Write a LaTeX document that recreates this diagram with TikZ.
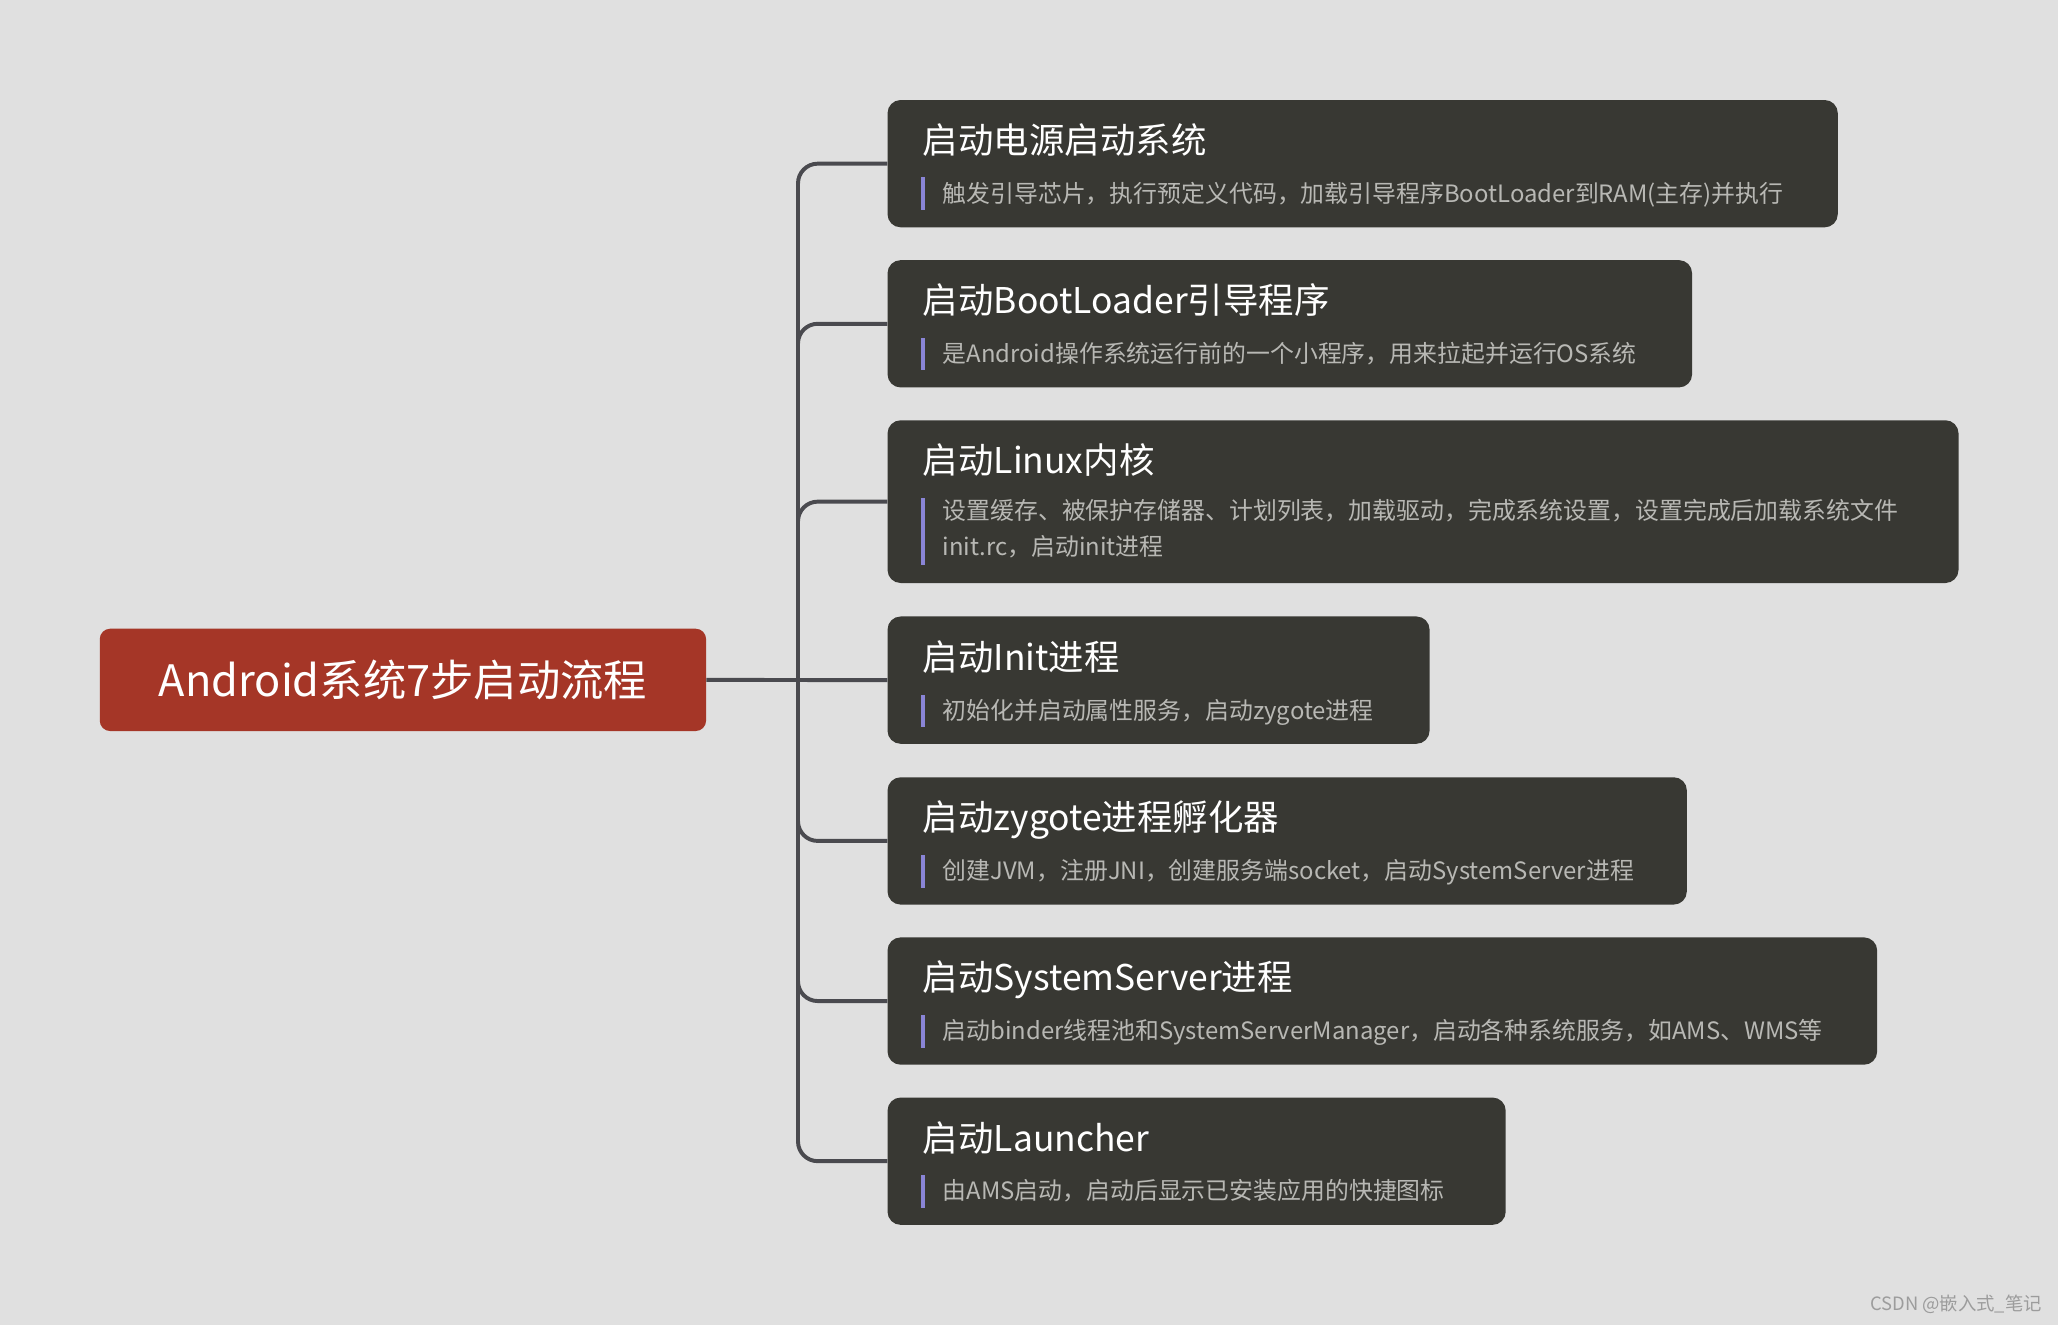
\documentclass[tikz,border=0pt]{standalone}
\usepackage{fontspec}
\setmainfont{Noto Sans CJK SC}
\definecolor{bgc}{HTML}{E0E0E0}
\definecolor{rootc}{HTML}{A53627}
\definecolor{boxc}{HTML}{383833}
\definecolor{linec}{HTML}{4A4A4F}
\definecolor{descc}{HTML}{B8B8B4}
\definecolor{barc}{HTML}{8A85D6}
\definecolor{wmc}{HTML}{9C9C9C}
\begin{document}
\begin{tikzpicture}[x=1pt,y=-1pt,
  root/.style={fill=rootc, rounded corners=8pt, minimum width=462pt, minimum height=78pt,
    text=white, font=\fontsize{33pt}{36pt}\selectfont, text height=29pt, text depth=4pt, inner sep=0pt},
  stepbox/.style={fill=boxc, rounded corners=10pt, anchor=north west, minimum height=97pt, inner sep=0pt},
  ttl/.style={text=white, font=\fontsize{27pt}{30pt}\selectfont, anchor=base west, inner sep=0pt},
  dsc/.style={text=descc, font=\fontsize{18.2pt}{27.5pt}\selectfont, anchor=base west, inner sep=0pt, align=left},
  accent/.style={fill=barc, minimum width=3pt, inner sep=0pt, anchor=north},
  conn/.style={draw=linec, line width=3pt, rounded corners=15pt},
  wm/.style={text=wmc, font=\fontsize{14pt}{16pt}\selectfont, anchor=east, inner sep=0pt}
]
\useasboundingbox (0,0) rectangle (1568,1009);
\begin{pgfinterruptboundingbox}
\fill[bgc] (-10,-10) rectangle (1578,1019);
\end{pgfinterruptboundingbox}

\node[root] (root) at (307,518) {Android系统7步启动流程};
\coordinate (J) at (608,518);

% boxes
\node[stepbox, minimum width=724pt] (b1) at (676,76) {};
\node[stepbox, minimum width=613pt] (b2) at (676,198) {};
\node[stepbox, minimum width=816pt, minimum height=124pt] (b3) at (676,320) {};
\node[stepbox, minimum width=413pt] (b4) at (676,469.5) {};
\node[stepbox, minimum width=609pt] (b5) at (676,592) {};
\node[stepbox, minimum width=754pt] (b6) at (676,714) {};
\node[stepbox, minimum width=471pt] (b7) at (676,836) {};

% connectors
\draw[conn] (root.east) -- (b4.west);
\draw[conn] (J) |- (b1.west);
\draw[conn] (J) |- (b2.west);
\draw[conn] (J) |- (b3.west);
\draw[conn] (J) |- (b5.west);
\draw[conn] (J) |- (b6.west);
\draw[conn] (J) |- (b7.west);

% titles
\node[ttl] (t1) at (703,117) {启动电源启动系统};
\node[ttl] (t2) at (703,239) {启动BootLoader引导程序};
\node[ttl] (t3) at (703,361) {启动Linux内核};
\node[ttl] (t4) at (703,511) {启动Init进程};
\node[ttl] (t5) at (703,633) {启动zygote进程孵化器};
\node[ttl] (t6) at (703,755) {启动SystemServer进程};
\node[ttl] (t7) at (703,877) {启动Launcher};

% accent bars
\node[accent, minimum height=25pt] (a1) at (703,135) {};
\node[accent, minimum height=25pt] (a2) at (703,257) {};
\node[accent, minimum height=51pt] (a3) at (703,379) {};
\node[accent, minimum height=25pt] (a4) at (703,529) {};
\node[accent, minimum height=25pt] (a5) at (703,651) {};
\node[accent, minimum height=25pt] (a6) at (703,773) {};
\node[accent, minimum height=25pt] (a7) at (703,895) {};

% descriptions
\node[dsc] (d1) at (718,154) {触发引导芯片，执行预定义代码，加载引导程序BootLoader到RAM(主存)并执行};
\node[dsc] (d2) at (718,276) {是Android操作系统运行前的一个小程序，用来拉起并运行OS系统};
\node[dsc, anchor=north west] (d3) at (718,380) {设置缓存、被保护存储器、计划列表，加载驱动，完成系统设置，设置完成后加载系统文件\\init.rc，启动init进程};
\node[dsc] (d4) at (718,548) {初始化并启动属性服务，启动zygote进程};
\node[dsc] (d5) at (718,670) {创建JVM，注册JNI，创建服务端socket，启动SystemServer进程};
\node[dsc] (d6) at (718,792) {启动binder线程池和SystemServerManager，启动各种系统服务，如AMS、WMS等};
\node[dsc] (d7) at (718,914) {由AMS启动，启动后显示已安装应用的快捷图标};

\node[wm] (wm) at (1556,994) {CSDN @嵌入式\_笔记};
\end{tikzpicture}
\end{document}
